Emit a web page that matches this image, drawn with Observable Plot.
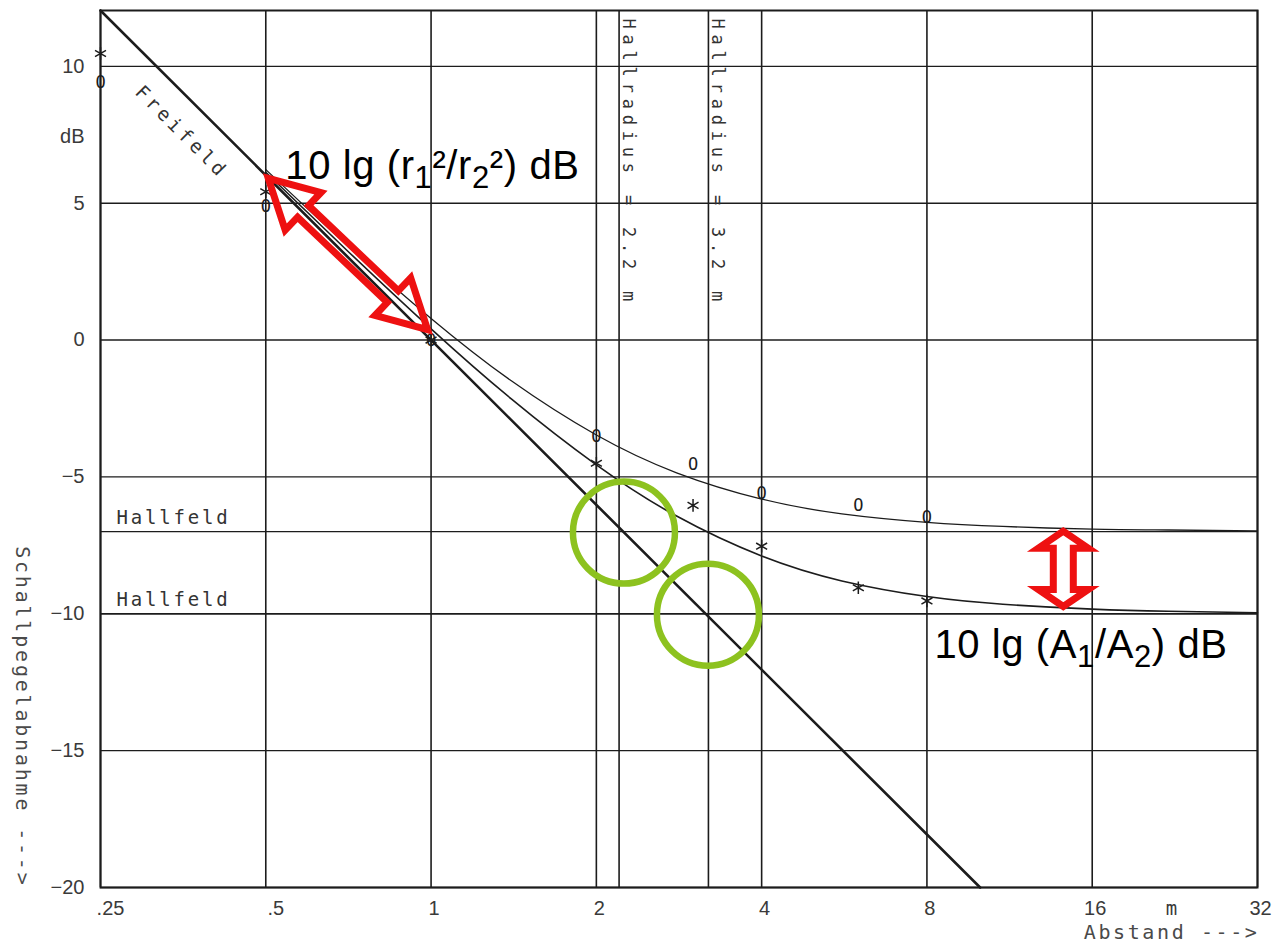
<!DOCTYPE html>
<html>
<head>
<meta charset="utf-8">
<script src="https://cdn.jsdelivr.net/npm/d3@7"></script>
<script src="https://cdn.jsdelivr.net/npm/@observablehq/plot@0.6"></script>
<style>
  html, body { margin: 0; padding: 0; background: #fff; }
</style>
</head>
<body>
<div id="chart"></div>
<script>
// ---- data ----
const xTicks = [0.25, 0.5, 1, 2, 4, 8, 16, 32];
const xTickLabels = [".25", ".5", "1", "2", "4", "8", "16", "32"];
const yTicks = [10, 5, 0, -5, -10, -15, -20];

const hallradiusX = [2.2, 3.2];
const hallradiusLabels = ["Hallradius = 2.2 m", "Hallradius = 3.2 m"];
const hallfeldY = [-7, -10];

const freiX = [0.25, 10];
const freiY = [12.04, -20];

const curveX = [0.5, 0.7, 1, 1.4, 2, 2.8, 4, 5.6, 8, 11, 16, 22, 32];
const curveUpper = [6.23, 3.50, 0.79, -1.49, -3.47, -4.85, -5.81, -6.35, -6.66, -6.81, -6.91, -6.94, -6.97];
const curveLower = [6.13, 3.31, 0.41, -2.15, -4.56, -6.43, -7.89, -8.80, -9.37, -9.65, -9.83, -9.91, -9.96];

const measX = [0.25, 0.5, 1, 2, 3, 4, 6, 8];
const measO = [9.42, 4.87, 0, -3.53, -4.55, -5.6, -6.04, -6.5];
const measStar = [10.47, 5.42, 0, -4.5, -6.04, -7.53, -9.05, -9.53];

// annotations (data coordinates)
const arrowDiag = {x1: 0.5, y1: 6.0, x2: 1.0, y2: 0.25};
const arrowVert = {x1: 14.2, y1: -7.0, x2: 14.2, y2: -9.75};
const circlesX = [2.25, 3.2];
const circlesY = [-7.05, -10.05];

const mono = "'DejaVu Sans Mono', 'Liberation Mono', monospace";
const sans = "'Liberation Sans', Arial, sans-serif";
const ink = "#1c1c1c";
const labelInk = "#3a3a3a";

const upperLine = curveX.map((x, i) => ({x, y: curveUpper[i]}));
const lowerLine = curveX.map((x, i) => ({x, y: curveLower[i]}));
const freiLine = freiX.map((x, i) => ({x, y: freiY[i]}));
const oPts = measX.map((x, i) => ({x, y: measO[i]}));
const starPts = measX.map((x, i) => ({x, y: measStar[i]}));
const fracTicks = xTicks.filter(d => d < 1);
const intTicks = xTicks.filter(d => d >= 1);

function hollowArrow(p1, p2, H, W, w) {
  const dx = p2[0] - p1[0], dy = p2[1] - p1[1];
  const L = Math.hypot(dx, dy);
  const ux = dx / L, uy = dy / L, nx = -uy, ny = ux;
  const pt = (p, a, b) => [p[0] + ux * a + nx * b, p[1] + uy * a + ny * b];
  const pts = [
    p1, pt(p1, H, W), pt(p1, H, w), pt(p2, -H, w), pt(p2, -H, W),
    p2, pt(p2, -H, -W), pt(p2, -H, -w), pt(p1, H, -w), pt(p1, H, -W)
  ];
  return "M" + pts.map(p => p[0].toFixed(1) + "," + p[1].toFixed(1)).join("L") + "Z";
}

function formula(g, x, y, parts) {
  const t = g.append("text")
    .attr("x", x).attr("y", y)
    .attr("text-anchor", "start")
    .attr("letter-spacing", 0.6)
    .attr("font-family", sans).attr("font-size", 40).attr("fill", "#000");
  let sub = false;
  parts.forEach(([s, isSub]) => {
    const sp = t.append("tspan").text(s);
    if (isSub && !sub) sp.attr("dy", 9).attr("font-size", 31);
    else if (!isSub && sub) sp.attr("dy", -9);
    sub = isSub;
  });
}

function annotations(index, scales) {
  const g = d3.create("svg:g");
  const sx = scales.x, sy = scales.y;
  circlesX.forEach((cx, i) => {
    g.append("circle")
      .attr("cx", sx(cx)).attr("cy", sy(circlesY[i])).attr("r", 51)
      .attr("fill", "none").attr("stroke", "#8dc21f").attr("stroke-width", 6.5);
  });
  g.append("path")
    .attr("d", hollowArrow([sx(arrowDiag.x1) + 3, sy(arrowDiag.y1) + 3], [sx(arrowDiag.x2) - 3, sy(arrowDiag.y2) - 3], 48, 26, 8))
    .attr("fill", "none").attr("stroke", "#ee1111").attr("stroke-width", 7)
    .attr("stroke-linejoin", "miter").attr("stroke-miterlimit", 10);
  g.append("path")
    .attr("d", hollowArrow([sx(arrowVert.x1), sy(arrowVert.y1)], [sx(arrowVert.x2), sy(arrowVert.y2)], 17, 25, 10))
    .attr("fill", "none").attr("stroke", "#ee1111").attr("stroke-width", 7)
    .attr("stroke-linejoin", "miter").attr("stroke-miterlimit", 4);
  formula(g, sx(0.5) + 20, sy(6.0) + 4,
    [["10 lg (r", false], ["1", true], ["²/r", false], ["2", true], ["²) dB", false]]);
  formula(g, sx(8) + 8, sy(-11.65),
    [["10 lg (A", false], ["1", true], ["/A", false], ["2", true], [") dB", false]]);
  return g.node();
}

const chart = Plot.plot({
  width: 1279,
  height: 943,
  marginLeft: 100,
  marginRight: 22,
  marginTop: 10,
  marginBottom: 56,
  style: {background: "#fff", color: ink},
  x: {type: "log", base: 2, domain: [0.25, 32], axis: null},
  y: {domain: [-20, 12.04], axis: null},
  marks: [
    // grid
    Plot.ruleX(xTicks, {stroke: ink, strokeWidth: 1.6}),
    Plot.ruleY(yTicks, {stroke: ink, strokeWidth: 1.4}),
    Plot.ruleX(hallradiusX, {stroke: ink, strokeWidth: 1.6}),
    Plot.ruleY(hallfeldY, {stroke: ink, strokeWidth: 1.4}),
    Plot.frame({stroke: ink, strokeWidth: 2}),
    // axis labels
    Plot.text(fracTicks, {x: d => d, y: -20, dy: 21, dx: 10, text: d => xTickLabels[xTicks.indexOf(d)],
      fontSize: 20, fontFamily: sans, fill: labelInk}),
    Plot.text(intTicks, {x: d => d, y: -20, dy: 21, dx: 3, text: d => xTickLabels[xTicks.indexOf(d)],
      fontSize: 20, fontFamily: sans, fill: labelInk}),
    Plot.text(yTicks, {x: 0.25, y: d => d, dx: -16, textAnchor: "end",
      text: d => (d < 0 ? "\u2212" : "") + Math.abs(d), fontSize: 20, fontFamily: sans, fill: labelInk}),
    Plot.text(["dB"], {x: 0.25, y: 7.45, dx: -16, textAnchor: "end", fontSize: 20, fontFamily: sans, fill: labelInk}),
    Plot.text(["m"], {x: 22.3, y: -20, dy: 21, fontSize: 19, fontFamily: mono, fill: labelInk}),
    Plot.text(["Abstand --->"], {x: 32, y: -20, dy: 45, dx: 2, textAnchor: "end", fontSize: 20, fontFamily: mono, fill: "#4a4a4a"}),
    Plot.text(["Schallpegelabnahme --->"], {x: 0.25, y: -20, dx: -78, dy: 0, textAnchor: "end", rotate: 90,
      fontSize: 20, fontFamily: mono, fill: "#4a4a4a"}),
    // curves
    Plot.line(freiLine, {x: "x", y: "y", stroke: ink, strokeWidth: 2.6}),
    Plot.line(upperLine, {x: "x", y: "y", curve: "natural", stroke: ink, strokeWidth: 1.3}),
    Plot.line(lowerLine, {x: "x", y: "y", curve: "natural", stroke: ink, strokeWidth: 1.6}),
    // measured points
    Plot.text(oPts, {x: "x", y: "y", text: () => "O", fontSize: 17, fontFamily: mono, fill: ink}),
    Plot.dot(starPts, {x: "x", y: "y", symbol: "asterisk", r: 6, stroke: ink, strokeWidth: 1.5}),
    // labels
    Plot.text(["Freifeld"], {x: 0.351, y: 7.6, rotate: 45, fontSize: 19, fontFamily: mono, fill: "#333"}),
    Plot.text(hallfeldY, {x: 0.25, y: d => d, text: () => "Hallfeld", dx: 16, dy: -14, textAnchor: "start",
      fontSize: 19, fontFamily: mono, fill: "#333"}),
    Plot.text(hallradiusX, {x: d => d, y: 12.04, text: (d, i) => hallradiusLabels[i], rotate: 90, textAnchor: "start",
      dx: 9, dy: 8, fontSize: 17, fontFamily: mono, fill: "#333"}),
    annotations
  ]
});

// typewriter-like letter spacing for the plotter labels
const spacing = [
  [t => t.startsWith("Hallradius"), 5.8],
  [t => t === "Hallfeld", 2.8],
  [t => t === "Freifeld", 3.8],
  [t => t.startsWith("Schallpegel"), 2.8],
  [t => t.startsWith("Abstand"), 2.6]
];
d3.select(chart).selectAll("text").each(function () {
  const t = this.textContent;
  for (const [test, ls] of spacing) if (test(t)) this.setAttribute("letter-spacing", ls);
});

document.getElementById("chart").appendChild(chart);
</script>
</body>
</html>
